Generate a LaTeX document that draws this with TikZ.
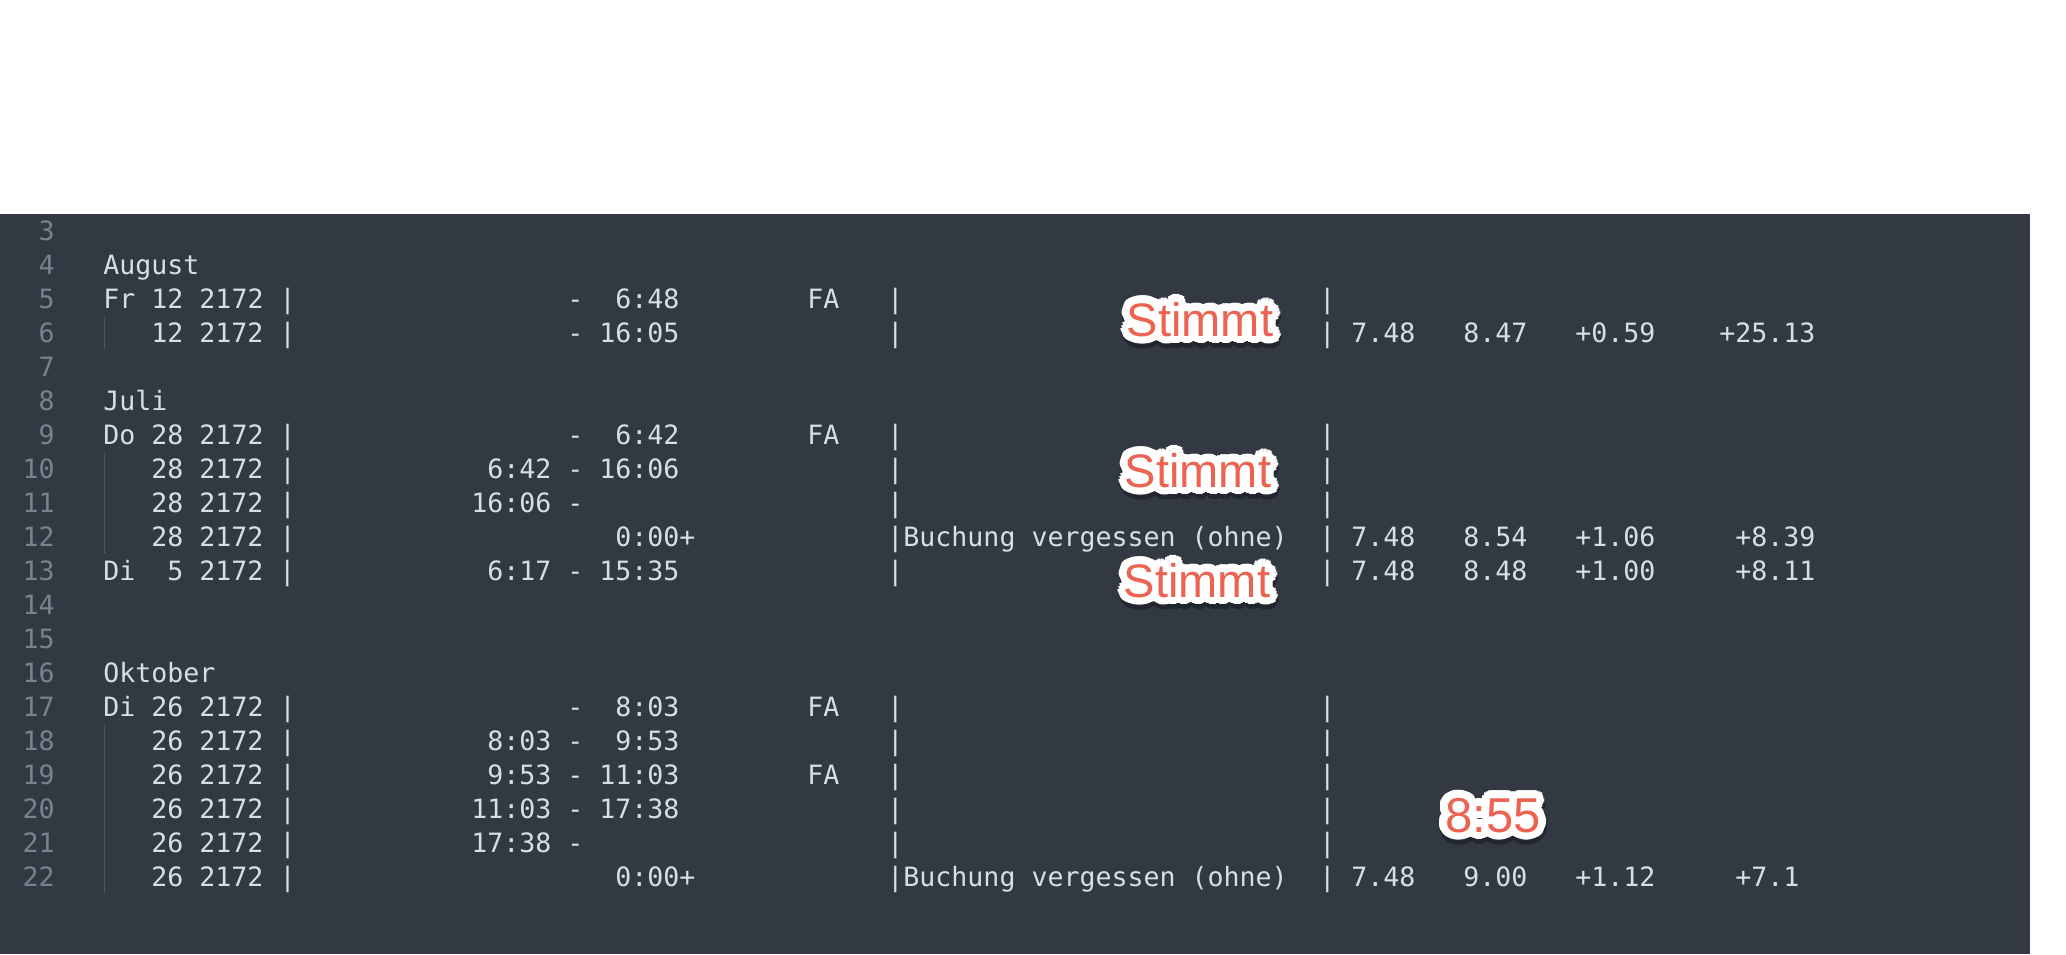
\documentclass[tikz,border=0pt]{standalone}
\usepackage{fontspec}
\setmonofont{DejaVu Sans Mono}
\newfontfamily\stickerfont{Liberation Sans}
\definecolor{editorbg}{RGB}{50,57,67}
\definecolor{codefg}{RGB}{216,222,232}
\definecolor{gutter}{RGB}{122,130,142}
\definecolor{guide}{RGB}{100,108,120}
\definecolor{skitch}{RGB}{236,99,82}
\definecolor{stickshadow}{RGB}{34,38,46}

\tikzset{
  code/.style={anchor=base west,inner sep=0pt,text=codefg,font=\ttfamily\fontsize{13.3}{16}\selectfont},
  lineno/.style={anchor=base east,inner sep=0pt,text=gutter,font=\ttfamily\fontsize{13.3}{16}\selectfont},
  sticker/.style={anchor=base,inner sep=0pt,font=\stickerfont\fontsize{23.5}{26}\selectfont},
}

% one editor row: row number, list of column/text
\newcommand\codeline[2]{%
  \foreach \cl/\tx in {#2} {\node[code] (l#1c\cl) at ({103+16*\cl},{240+34*(#1-3)}) {\tx};}}

% red note with white rim: name, x, baseline, text
\newcommand\sticker[4]{%
  \foreach \a in {0,20,...,340} {\node[sticker,text=stickshadow] (#1s\a) at ([shift={(\a:4.2pt)},xshift=0.4pt,yshift=-2pt]#2,#3) {#4};}
  \foreach \a in {0,20,...,340} {\node[sticker,text=white] (#1w\a) at ([shift={(\a:4pt)}]#2,#3) {#4};}
  \foreach \a in {0,40,...,320} {\node[sticker,text=white] (#1v\a) at ([shift={(\a:2pt)}]#2,#3) {#4};}
  \node[sticker,text=skitch] (#1) at (#2,#3) {#4};}

\begin{document}
\begin{tikzpicture}[x=0.5pt,y=-0.5pt]
\useasboundingbox (0,0) rectangle (2066,954);
\fill[white] (0,0) rectangle (2066,954);
\fill[editorbg] (0,214) rectangle (2030,954);
% gutter
\foreach \n in {3,...,22} {\node[lineno] (n\n) at (55,{240+34*(\n-3)}) {\n};}
% indent guides
\foreach \a/\b in {6/6,10/12,18/22}
  \draw[guide,line width=0.5pt,dash pattern=on 0.5pt off 0.5pt] (104,{214+34*(\a-3)}) -- (104,{248+34*(\b-3)});
% text
\codeline{4}{0/August}
\codeline{5}{0/Fr 12 2172 |,29/-,32/6:48,44/FA,49/|,76/|}
\codeline{6}{3/12 2172 |,29/-,31/16:05,49/|,76/|,78/7.48,85/8.47,92/+0.59,101/+25.13}
\codeline{8}{0/Juli}
\codeline{9}{0/Do 28 2172 |,29/-,32/6:42,44/FA,49/|,76/|}
\codeline{10}{3/28 2172 |,24/6:42,29/-,31/16:06,49/|,76/|}
\codeline{11}{3/28 2172 |,23/16:06,29/-,49/|,76/|}
\codeline{12}{3/28 2172 |,32/0:00+,49/|Buchung vergessen (ohne),76/|,78/7.48,85/8.54,92/+1.06,102/+8.39}
\codeline{13}{0/Di,4/5 2172 |,24/6:17,29/-,31/15:35,49/|,76/|,78/7.48,85/8.48,92/+1.00,102/+8.11}
\codeline{16}{0/Oktober}
\codeline{17}{0/Di 26 2172 |,29/-,32/8:03,44/FA,49/|,76/|}
\codeline{18}{3/26 2172 |,24/8:03,29/-,32/9:53,49/|,76/|}
\codeline{19}{3/26 2172 |,24/9:53,29/-,31/11:03,44/FA,49/|,76/|}
\codeline{20}{3/26 2172 |,23/11:03,29/-,31/17:38,49/|,76/|}
\codeline{21}{3/26 2172 |,23/17:38,29/-,49/|,76/|}
\codeline{22}{3/26 2172 |,32/0:00+,49/|Buchung vergessen (ohne),76/|,78/7.48,85/9.00,92/+1.12,102/+7.1}
% notes
\sticker{stimmtA}{1200}{336}{Stimmt}
\sticker{stimmtB}{1198}{487}{Stimmt}
\sticker{stimmtC}{1197}{597}{Stimmt}
\sticker{fix}{1493}{832}{\fontsize{24.5}{26}\selectfont 8:55}
\end{tikzpicture}
\end{document}
